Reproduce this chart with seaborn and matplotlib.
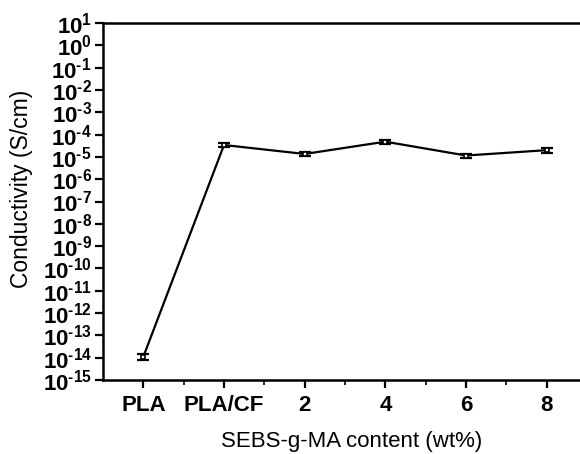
import numpy as np
import pandas as pd
import matplotlib
matplotlib.use("Agg")
import matplotlib.pyplot as plt
import matplotlib.ticker as mticker
import seaborn as sns

categories = ["PLA", "PLA/CF", "2", "4", "6", "8"]
conductivity = [1.1e-14, 3.4e-5, 1.35e-5, 4.8e-5, 1.15e-5, 2.0e-5]
err_low = [0.3e-14, 0.7e-5, 0.3e-5, 1.0e-5, 0.25e-5, 0.45e-5]
err_high = [0.3e-14, 0.7e-5, 0.3e-5, 1.0e-5, 0.25e-5, 0.45e-5]
y_exponents = list(range(1, -16, -1))
y_ticklabels = [r"$\mathbf{10^{%s}}$" % str(e).replace("-", "\u2010") for e in y_exponents]

sns.set_theme(style="ticks")
plt.rcParams["font.family"] = ["Liberation Sans", "DejaVu Sans"]
plt.rcParams["mathtext.fontset"] = "custom"
plt.rcParams["mathtext.rm"] = "Liberation Sans"
plt.rcParams["mathtext.bf"] = "Liberation Sans:bold"
plt.rcParams["mathtext.it"] = "Liberation Sans:italic"
plt.rcParams["text.color"] = "black"
plt.rcParams["axes.labelcolor"] = "black"

pos = np.arange(len(categories))
df = pd.DataFrame({"pos": pos, "cond": conductivity})

fig = plt.figure(figsize=(5.8, 4.54), dpi=100)
ax = fig.add_axes([103/580, 74/454, 484/580, 357/454])

sns.lineplot(data=df, x="pos", y="cond", ax=ax, color="black", linewidth=1.6)
ax.errorbar(pos, conductivity, yerr=[err_low, err_high], fmt="none",
            ecolor="black", elinewidth=1.4, capsize=4, capthick=1.6)
ax.plot(pos, conductivity, marker="s", markersize=3.5, color="black",
        linestyle="none", markerfacecolor="white", markeredgewidth=1.2)

ax.set_yscale("log")
ax.set_ylim(1e-15, 10)
ax.set_xlim(-0.5, 5.5)
ax.yaxis.set_major_locator(mticker.FixedLocator([10.0**e for e in y_exponents]))
ax.yaxis.set_major_formatter(mticker.FixedFormatter(y_ticklabels))
ax.yaxis.set_minor_locator(mticker.NullLocator())
ax.set_xticks(pos)
ax.set_xticklabels(categories, fontweight="bold", fontsize=16)
ax.xaxis.set_minor_locator(mticker.FixedLocator(pos[:-1] + 0.5))

ax.tick_params(axis="y", which="major", direction="out", length=6, width=1.6,
               labelsize=16, pad=2, colors="black")
ax.tick_params(axis="x", which="major", direction="out", length=6, width=1.6,
               pad=5, colors="black")
ax.tick_params(axis="x", which="minor", direction="out", length=3.5, width=1.4)

for s in ["left", "bottom", "top"]:
    ax.spines[s].set_linewidth(1.8)
    ax.spines[s].set_color("black")
ax.spines["right"].set_visible(False)

ax.set_xlabel("SEBS-g-MA content (wt%)", fontsize=16)
ax.xaxis.set_label_coords((352 - 103) / 484, -(431 - 380) / 357)
ax.set_ylabel("Conductivity (S/cm)", fontsize=16.5)
ax.yaxis.set_label_coords((33 - 103) / 484, 0.535)

fig.savefig("out.png", dpi=100)
